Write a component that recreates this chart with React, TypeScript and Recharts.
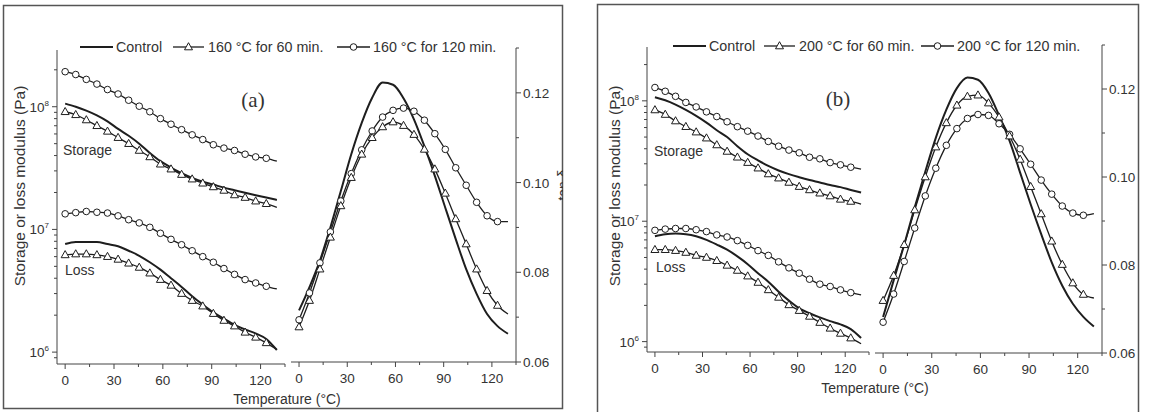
import { LineChart, Line, XAxis, YAxis } from "recharts";

const FONT = '"Liberation Sans", Arial, sans-serif';
const INK = "#1e1e1e";
const AX = "#444";
const TXT = "#333";

const temps = [0, 6.5, 13, 19.5, 26, 32.5, 39, 45.5, 52, 58.5, 65, 71.5, 78, 84.5, 91, 97.5, 104, 110.5, 117, 123.5, 130];
const xTicks = [0, 15, 30, 45, 60, 75, 90, 105, 120, 135];
const modTicks = [9e5, 1e6, 2e6, 3e6, 4e6, 5e6, 6e6, 7e6, 8e6, 9e6, 1e7, 2e7, 3e7, 4e7, 5e7, 6e7, 7e7, 8e7, 9e7, 1e8, 2e8];
const modMajor = [1e6, 1e7, 1e8];
const modLabels = ["6", "7", "8"];
const tanTicks = [0.06, 0.07, 0.08, 0.09, 0.1, 0.11, 0.12, 0.13];
const tanLabels = ["0.06", "", "0.08", "", "0.10", "", "0.12", ""];

// panel (a): 160 °C
const aStorageControl = [1.06e8, 1.0e8, 9.3e7, 8.5e7, 7.6e7, 6.6e7, 5.8e7, 5.0e7, 4.2e7, 3.6e7, 3.2e7, 2.87e7, 2.63e7, 2.45e7, 2.32e7, 2.19e7, 2.09e7, 1.99e7, 1.9e7, 1.82e7, 1.74e7];
const aStorage60 = [9.1e7, 8.6e7, 7.8e7, 7.0e7, 6.3e7, 5.6e7, 5.0e7, 4.4e7, 3.9e7, 3.4e7, 3.1e7, 2.8e7, 2.57e7, 2.38e7, 2.22e7, 2.08e7, 1.91e7, 1.82e7, 1.7e7, 1.62e7, 1.51e7];
const aStorage120 = [1.93e8, 1.83e8, 1.67e8, 1.53e8, 1.38e8, 1.27e8, 1.13e8, 1.01e8, 9.1e7, 8.0e7, 7.2e7, 6.5e7, 5.9e7, 5.4e7, 4.9e7, 4.6e7, 4.4e7, 4.1e7, 3.9e7, 3.8e7, 3.6e7];
const aLossControl = [7.6e6, 7.9e6, 7.9e6, 7.9e6, 7.6e6, 7.3e6, 6.7e6, 6.1e6, 5.4e6, 4.7e6, 4.0e6, 3.4e6, 2.85e6, 2.44e6, 2.11e6, 1.87e6, 1.67e6, 1.53e6, 1.42e6, 1.28e6, 1.04e6];
const aLoss60 = [6.2e6, 6.3e6, 6.3e6, 6.2e6, 6.0e6, 5.7e6, 5.3e6, 4.9e6, 4.4e6, 3.9e6, 3.5e6, 3.0e6, 2.63e6, 2.37e6, 2.06e6, 1.81e6, 1.63e6, 1.45e6, 1.32e6, 1.19e6, 1.05e6];
const aLoss120 = [1.34e7, 1.37e7, 1.4e7, 1.38e7, 1.36e7, 1.29e7, 1.2e7, 1.13e7, 1.04e7, 9.3e6, 8.3e6, 7.5e6, 6.7e6, 6.0e6, 5.4e6, 4.8e6, 4.3e6, 3.9e6, 3.66e6, 3.44e6, 3.27e6];
const aTanControl = [0.0715, 0.0767, 0.0826, 0.09, 0.0981, 0.1063, 0.1133, 0.1189, 0.1223, 0.1218, 0.1188, 0.1141, 0.1081, 0.1015, 0.0944, 0.0874, 0.0807, 0.0752, 0.0707, 0.068, 0.0663];
const aTan60 = [0.0678, 0.0737, 0.0807, 0.0878, 0.0948, 0.1011, 0.1063, 0.11, 0.1124, 0.1135, 0.1127, 0.1107, 0.1074, 0.103, 0.0976, 0.0919, 0.0863, 0.0807, 0.0759, 0.0726, 0.0707];
const aTan120 = [0.0694, 0.0754, 0.0821, 0.089, 0.0959, 0.102, 0.1073, 0.1115, 0.1146, 0.1161, 0.1166, 0.1159, 0.1139, 0.1109, 0.1074, 0.1033, 0.0994, 0.0956, 0.0926, 0.0913, 0.0913];

// panel (b): 200 °C
const bStorageControl = [1.07e8, 1.01e8, 9.3e7, 8.4e7, 7.5e7, 6.6e7, 5.7e7, 5.0e7, 4.2e7, 3.6e7, 3.2e7, 2.88e7, 2.64e7, 2.46e7, 2.32e7, 2.2e7, 2.1e7, 2.0e7, 1.92e7, 1.82e7, 1.73e7];
const bStorage60 = [8.4e7, 7.7e7, 6.8e7, 6.1e7, 5.5e7, 4.9e7, 4.3e7, 3.8e7, 3.4e7, 3.07e7, 2.76e7, 2.47e7, 2.28e7, 2.1e7, 1.94e7, 1.82e7, 1.71e7, 1.62e7, 1.52e7, 1.46e7, 1.39e7];
const bStorage120 = [1.29e8, 1.2e8, 1.09e8, 9.7e7, 8.9e7, 8.1e7, 7.4e7, 6.7e7, 6.1e7, 5.6e7, 5.1e7, 4.6e7, 4.2e7, 3.9e7, 3.7e7, 3.4e7, 3.3e7, 3.07e7, 2.94e7, 2.81e7, 2.71e7];
const bLossControl = [7.5e6, 7.8e6, 7.9e6, 7.8e6, 7.5e6, 7.0e6, 6.4e6, 5.8e6, 5.1e6, 4.4e6, 3.7e6, 3.15e6, 2.6e6, 2.19e6, 1.89e6, 1.72e6, 1.59e6, 1.48e6, 1.39e6, 1.27e6, 1.07e6];
const bLoss60 = [5.8e6, 5.8e6, 5.7e6, 5.5e6, 5.2e6, 5.0e6, 4.7e6, 4.3e6, 3.9e6, 3.5e6, 3.1e6, 2.69e6, 2.33e6, 2.02e6, 1.81e6, 1.62e6, 1.44e6, 1.29e6, 1.17e6, 1.07e6, 9.6e5];
const bLoss120 = [8.4e6, 8.6e6, 8.7e6, 8.7e6, 8.5e6, 8.2e6, 7.7e6, 7.4e6, 6.9e6, 6.3e6, 5.7e6, 5.2e6, 4.6e6, 4.1e6, 3.7e6, 3.3e6, 3.0e6, 2.87e6, 2.69e6, 2.55e6, 2.44e6];
const bTanControl = [0.0682, 0.0765, 0.0846, 0.0931, 0.1012, 0.1089, 0.1153, 0.1202, 0.1226, 0.1221, 0.1191, 0.114, 0.1082, 0.101, 0.0938, 0.087, 0.0806, 0.0753, 0.0712, 0.0682, 0.066];
const bTan60 = [0.0719, 0.0776, 0.0846, 0.0925, 0.1, 0.1068, 0.1123, 0.1163, 0.1183, 0.1186, 0.1168, 0.1136, 0.1093, 0.104, 0.0978, 0.0916, 0.0854, 0.0801, 0.0759, 0.0733, 0.0725];
const bTan120 = [0.067, 0.0734, 0.0808, 0.0884, 0.0957, 0.102, 0.1072, 0.111, 0.1133, 0.1142, 0.114, 0.1121, 0.1097, 0.1064, 0.1029, 0.0993, 0.0961, 0.0934, 0.0918, 0.0913, 0.0917];

const modRows = (sc: number[], s60: number[], s120: number[], lc: number[], l60: number[], l120: number[]) =>
  temps.map((t, i) => ({ t, sc: sc[i], s60: s60[i], s120: s120[i], lc: lc[i], l60: l60[i], l120: l120[i] }));
const tanRows = (c: number[], d60: number[], d120: number[]) =>
  temps.map((t, i) => ({ t, c: c[i], d60: d60[i], d120: d120[i] }));

const aMod = modRows(aStorageControl, aStorage60, aStorage120, aLossControl, aLoss60, aLoss120);
const bMod = modRows(bStorageControl, bStorage60, bStorage120, bLossControl, bLoss60, bLoss120);
const aTan = tanRows(aTanControl, aTan60, aTan120);
const bTan = tanRows(bTanControl, bTan60, bTan120);

const last = temps.length - 1;

// eslint-disable-next-line @typescript-eslint/no-explicit-any
const triDot = (p: any) =>
  p.index === last ? (
    <g key={`t${p.index}`} />
  ) : (
    <path
      key={`t${p.index}`}
      d={`M${p.cx},${p.cy - 4.3}L${p.cx + 4},${p.cy + 2.8}L${p.cx - 4},${p.cy + 2.8}Z`}
      fill="#fff"
      stroke={INK}
      strokeWidth={1}
    />
  );

// eslint-disable-next-line @typescript-eslint/no-explicit-any
const circDot = (p: any) =>
  p.index === last ? (
    <g key={`c${p.index}`} />
  ) : (
    <circle key={`c${p.index}`} cx={p.cx} cy={p.cy} r={3.3} fill="#fff" stroke={INK} strokeWidth={1} />
  );

// eslint-disable-next-line @typescript-eslint/no-explicit-any
const XTick = ({ x, y, payload }: any) => {
  const major = payload.value % 30 === 0;
  return (
    <g>
      <line x1={x} x2={x} y1={y} y2={y + (major ? 5 : 3)} stroke={AX} />
      {major && (
        <text x={x} y={y + 21} textAnchor="middle" fontSize={13.5} fill={TXT} fontFamily={FONT}>
          {payload.value}
        </text>
      )}
    </g>
  );
};

// eslint-disable-next-line @typescript-eslint/no-explicit-any
const LogTick = ({ x, y, payload }: any) => {
  const k = modMajor.indexOf(payload.value);
  return (
    <g>
      <line x1={x} x2={x - (k >= 0 ? 5 : 3)} y1={y} y2={y} stroke={AX} />
      {k >= 0 && (
        <text x={x - 8} y={y + 5} textAnchor="end" fontSize={13.5} fill={TXT} fontFamily={FONT}>
          10<tspan dy={-6} fontSize={8}>{modLabels[k]}</tspan>
        </text>
      )}
    </g>
  );
};

// eslint-disable-next-line @typescript-eslint/no-explicit-any
const TanTick = ({ x, y, index }: any) => {
  const label = tanLabels[index];
  return (
    <g>
      <line x1={x} x2={x + (label ? 5 : 3)} y1={y} y2={y} stroke={AX} />
      {label && (
        <text x={x + 7} y={y + 5} fontSize={13.5} fill={TXT} fontFamily={FONT}>
          {label}
        </text>
      )}
    </g>
  );
};

function ModPlot({ left, width, top, bottom, right, domain, rows }: {
  left: number; width: number; top: number; bottom: number; right: number;
  domain: [number, number]; rows: ReturnType<typeof modRows>;
}) {
  return (
    <div style={{ position: "absolute", left, top: 0 }}>
      <LineChart width={width} height={412} data={rows} margin={{ top, right, bottom: 412 - bottom - 30, left: 0 }}>
        <XAxis dataKey="t" type="number" domain={[-5, 135]} ticks={xTicks} interval={0} tick={XTick}
          tickSize={0} tickMargin={0} height={30} stroke={AX} allowDataOverflow />
        <YAxis type="number" scale="log" domain={domain} ticks={modTicks} interval={0} tick={LogTick}
          tickSize={0} tickMargin={0} width={57} stroke={AX} allowDataOverflow />
        <Line type="monotone" dataKey="s120" stroke={INK} strokeWidth={1.3} dot={circDot} activeDot={false} isAnimationActive={false} />
        <Line type="monotone" dataKey="s60" stroke={INK} strokeWidth={1.3} dot={triDot} activeDot={false} isAnimationActive={false} />
        <Line type="monotone" dataKey="sc" stroke={INK} strokeWidth={2} dot={false} activeDot={false} isAnimationActive={false} />
        <Line type="monotone" dataKey="l120" stroke={INK} strokeWidth={1.3} dot={circDot} activeDot={false} isAnimationActive={false} />
        <Line type="monotone" dataKey="l60" stroke={INK} strokeWidth={1.3} dot={triDot} activeDot={false} isAnimationActive={false} />
        <Line type="monotone" dataKey="lc" stroke={INK} strokeWidth={2} dot={false} activeDot={false} isAnimationActive={false} />
      </LineChart>
    </div>
  );
}

function TanPlot({ left, width, top, bottom, marginLeft, right, rows }: {
  left: number; width: number; top: number; bottom: number; marginLeft: number; right: number;
  rows: ReturnType<typeof tanRows>;
}) {
  return (
    <div style={{ position: "absolute", left, top: 0 }}>
      <LineChart width={width} height={412} data={rows} margin={{ top, right, bottom: 412 - bottom - 30, left: marginLeft }}>
        <XAxis dataKey="t" type="number" domain={[-5, 135]} ticks={xTicks} interval={0} tick={XTick}
          tickSize={0} tickMargin={0} height={30} stroke={AX} allowDataOverflow />
        <YAxis orientation="right" type="number" domain={[0.06, 0.13]} ticks={tanTicks} interval={0} tick={TanTick}
          tickSize={0} tickMargin={0} width={45} stroke={AX} allowDataOverflow />
        <Line type="monotone" dataKey="d120" stroke={INK} strokeWidth={1.3} dot={circDot} activeDot={false} isAnimationActive={false} />
        <Line type="monotone" dataKey="d60" stroke={INK} strokeWidth={1.3} dot={triDot} activeDot={false} isAnimationActive={false} />
        <Line type="monotone" dataKey="c" stroke={INK} strokeWidth={2} dot={false} activeDot={false} isAnimationActive={false} />
      </LineChart>
    </div>
  );
}

function LegendRow({ x, y, temp }: { x: number[]; y: number; temp: string }) {
  const t = { fontSize: 14.3, fill: TXT, fontFamily: FONT };
  return (
    <g>
      <line x1={x[0]} x2={x[0] + 33} y1={y} y2={y} stroke={INK} strokeWidth={2} />
      <text x={x[0] + 36} y={y + 5} {...t}>Control</text>
      <line x1={x[1]} x2={x[1] + 31} y1={y} y2={y} stroke={INK} strokeWidth={1.3} />
      <path d={`M${x[1] + 15.5},${y - 4.3}L${x[1] + 19.5},${y + 2.8}L${x[1] + 11.5},${y + 2.8}Z`} fill="#fff" stroke={INK} />
      <text x={x[1] + 35} y={y + 5} {...t}>{temp} °C for 60 min.</text>
      <line x1={x[2]} x2={x[2] + 33} y1={y} y2={y} stroke={INK} strokeWidth={1.3} />
      <circle cx={x[2] + 16.5} cy={y} r={3.3} fill="#fff" stroke={INK} />
      <text x={x[2] + 36} y={y + 5} {...t}>{temp} °C for 120 min.</text>
    </g>
  );
}

function Overlay() {
  const t = { fill: TXT, fontFamily: FONT };
  return (
    <svg width={1151} height={412} style={{ position: "absolute", left: 0, top: 0, pointerEvents: "none" }}>
      <defs>
        <clipPath id="clipA">
          <rect x={0} y={0} width={563} height={412} />
        </clipPath>
      </defs>
      <rect x={3.5} y={5.5} width={559} height={403} fill="none" stroke="#555" strokeWidth={1.5} />
      <path d="M597.5,420V4.5H1138.5V420" fill="none" stroke="#555" strokeWidth={1.5} />

      <LegendRow x={[80, 173, 337]} y={47} temp="160" />
      <LegendRow x={[673, 764, 921]} y={46} temp="200" />

      <text x={253} y={107} textAnchor="middle" fontSize={21} fill={TXT} fontFamily='"Liberation Serif", "Times New Roman", serif'>(a)</text>
      <text x={838} y={106} textAnchor="middle" fontSize={21} fill={TXT} fontFamily='"Liberation Serif", "Times New Roman", serif'>(b)</text>

      <text x={63} y={155} fontSize={14} {...t}>Storage</text>
      <text x={65} y={275} fontSize={14} {...t}>Loss</text>
      <text x={654} y={156} fontSize={14} {...t}>Storage</text>
      <text x={656} y={272} fontSize={14} {...t}>Loss</text>

      <text transform="translate(25,186) rotate(-90)" textAnchor="middle" fontSize={15.5} {...t}>Storage or loss modulus (Pa)</text>
      <text transform="translate(620,186) rotate(-90)" textAnchor="middle" fontSize={15.5} {...t}>Storage or loss modulus (Pa)</text>
      <g clipPath="url(#clipA)">
        <text transform="translate(568,185) rotate(-90)" textAnchor="middle" fontSize={14} {...t}>tan δ</text>
      </g>

      <text x={287} y={404} textAnchor="middle" fontSize={14} {...t}>Temperature (°C)</text>
      <text x={875} y={393} textAnchor="middle" fontSize={14} {...t}>Temperature (°C)</text>
    </svg>
  );
}

export default function App() {
  return (
    <div style={{ position: "absolute", left: 0, top: 0, width: 1151, height: 412, background: "#fff" }}>
      <ModPlot left={0} width={300} top={50} bottom={364} right={15} domain={[8e5, 2.9e8]} rows={aMod} />
      <TanPlot left={286} width={290} top={48} bottom={362} marginLeft={5} right={15} rows={aTan} />
      <ModPlot left={590} width={290} top={47} bottom={352} right={11} domain={[8.2e5, 2.8e8]} rows={bMod} />
      <TanPlot left={869} width={282} top={45} bottom={353} marginLeft={6} right={4} rows={bTan} />
      <Overlay />
    </div>
  );
}
